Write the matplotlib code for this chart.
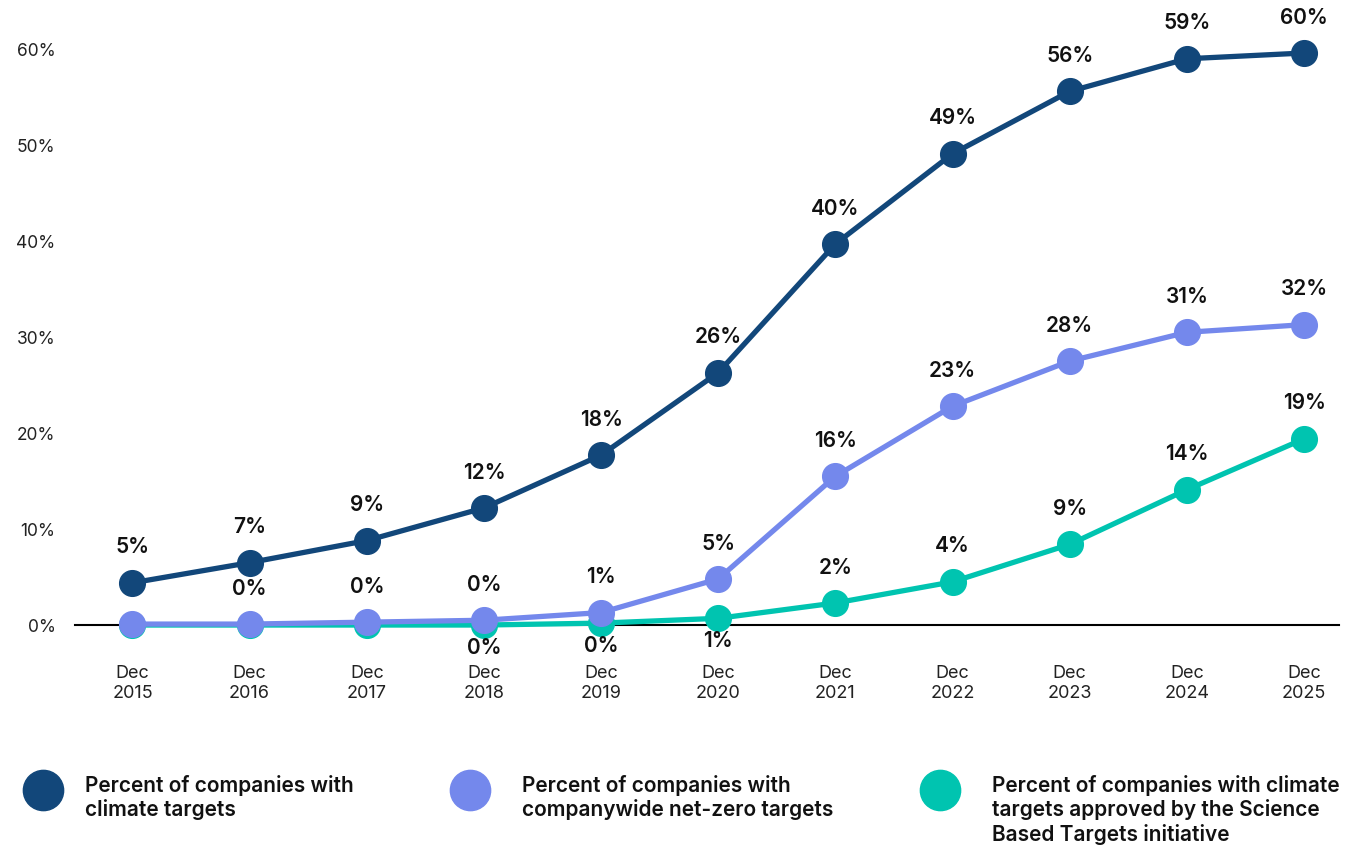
import matplotlib.pyplot as plt
from matplotlib.lines import Line2D

plt.rcParams['font.family'] = ['Inter', 'DejaVu Sans']

# Data
years = ['Dec\n2015', 'Dec\n2016', 'Dec\n2017', 'Dec\n2018', 'Dec\n2019', 'Dec\n2020',
         'Dec\n2021', 'Dec\n2022', 'Dec\n2023', 'Dec\n2024', 'Dec\n2025']
climate = [4.4, 6.5, 8.8, 12.2, 17.7, 26.3, 39.7, 49.1, 55.6, 59.0, 59.6]
climate_lbl = [5, 7, 9, 12, 18, 26, 40, 49, 56, 59, 60]
netzero = [0.1, 0.1, 0.3, 0.5, 1.3, 4.8, 15.5, 22.8, 27.5, 30.5, 31.3]
netzero_lbl = [None, 0, 0, 0, 1, 5, 16, 23, 28, 31, 32]
sbti = [0.0, 0.0, 0.0, 0.0, 0.2, 0.7, 2.3, 4.5, 8.4, 14.1, 19.4]
sbti_lbl = [None, None, None, 0, 0, 1, 2, 4, 9, 14, 19]
sbti_below = [False, False, False, True, True, True, False, False, False, False, False]

legend_names = ['Percent of companies with\nclimate targets',
                'Percent of companies with\ncompanywide net-zero targets',
                'Percent of companies with climate\ntargets approved by the Science\nBased Targets initiative']

c_navy = '#12477A'
c_peri = '#7488EC'
c_teal = '#00C4B0'

fig = plt.figure(figsize=(13.52, 8.49), dpi=100)
ax = fig.add_axes([0.0555, 0.2638, 0.935, 0.7009])

x = list(range(len(years)))
ax.plot(x, sbti, color=c_teal, lw=3.8, marker='o', ms=18.5, clip_on=False, zorder=3)
ax.plot(x, netzero, color=c_peri, lw=3.8, marker='o', ms=18.5, clip_on=False, zorder=4)
ax.plot(x, climate, color=c_navy, lw=3.8, marker='o', ms=18.5, clip_on=False, zorder=5)

lbl_kw = dict(textcoords='offset points', ha='center', va='center',
              fontsize=15, fontweight='semibold', color='#111111', zorder=6)
for i in x:
    ax.annotate(f'{climate_lbl[i]}%', (i, climate[i]), xytext=(0, 25.5), **lbl_kw)
    if netzero_lbl[i] is not None:
        ax.annotate(f'{netzero_lbl[i]}%', (i, netzero[i]), xytext=(0, 25.5), **lbl_kw)
    if sbti_lbl[i] is not None:
        off = -16.5 if sbti_below[i] else 25.5
        ax.annotate(f'{sbti_lbl[i]}%', (i, sbti[i]), xytext=(0, off), **lbl_kw)

ax.set_xlim(-0.49, 10.3)
ax.set_ylim(0, 62)
ax.set_yticks(range(0, 61, 10))
ax.set_yticklabels([f'{v}%' for v in range(0, 61, 10)])
ax.set_xticks(x)
ax.set_xticklabels(years, linespacing=1.25)
ax.tick_params(axis='y', length=0, pad=14, labelsize=12.5, labelcolor='#222222')
ax.tick_params(axis='x', length=0, pad=28.5, labelsize=13, labelcolor='#222222')
for s in ['top', 'right', 'left']:
    ax.spines[s].set_visible(False)
ax.spines['bottom'].set_color('#000000')
ax.spines['bottom'].set_linewidth(1.5)

# custom legend along the bottom
W, H = 1352, 849
for cx, tx, col, name in zip([43, 470, 940], [85, 522, 992], [c_navy, c_peri, c_teal], legend_names):
    fig.add_artist(Line2D([cx / W], [1 - 790 / H], marker='o', ms=29, color=col,
                          transform=fig.transFigure, lw=0))
    fig.text(tx / W, 1 - 775 / H, name, ha='left', va='top', fontsize=15,
             fontweight='semibold', color='#111111', linespacing=1.2)

fig.savefig('out.png', dpi=100)
